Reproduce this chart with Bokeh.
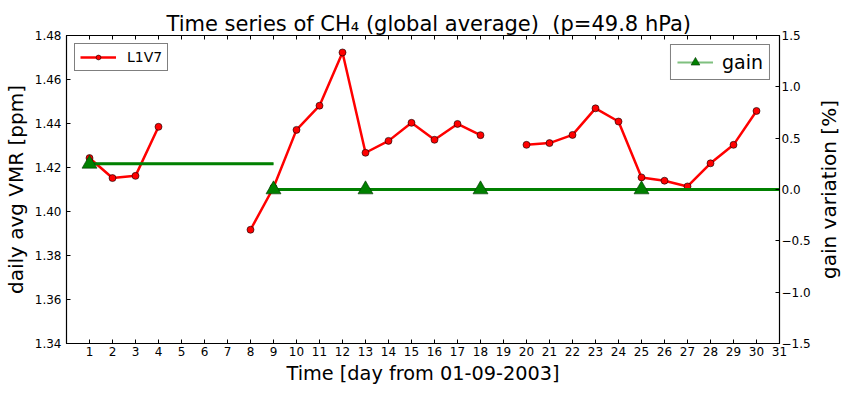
import math
from bokeh.plotting import figure
from bokeh.layouts import row
from bokeh.models import (Range1d, LinearAxis, FixedTicker, Legend, LegendItem,
                          ColumnDataSource)
from bokeh.embed import file_html
from bokeh.resources import INLINE

nan = float("nan")

days = list(range(1, 31))
l1v7 = [1.4243, 1.4152, 1.4162, 1.4385, nan, nan, nan, 1.3917, 1.4109, 1.4371,
        1.4481, 1.4723, 1.4267, 1.4321, 1.4403, 1.4326, 1.4398, 1.4347, nan, 1.4303,
        1.4311, 1.4348, 1.4469, 1.4409, 1.4155, 1.4140, 1.4114, 1.4219, 1.4303, 1.4457]

gain_days = [1, 9, 13, 18, 25]
gain_vals = [0.25, 0.0, 0.0, 0.0, 0.0]

x_ticks = list(range(1, 32))
y_ticks = [1.34, 1.36, 1.38, 1.40, 1.42, 1.44, 1.46, 1.48]
y_tick_labels = ["1.34", "1.36", "1.38", "1.40", "1.42", "1.44", "1.46", "1.48"]
y2_ticks = [-1.5, -1.0, -0.5, 0.0, 0.5, 1.0, 1.5]
y2_tick_labels = ["\u22121.5", "\u22121.0", "\u22120.5", "0.0", "0.5", "1.0", "1.5"]

X_MAX = 31
FONT = "DejaVu Sans"

p = figure(width=813, height=390,
           x_range=Range1d(0, X_MAX), y_range=Range1d(1.34, 1.48),
           output_backend="svg", toolbar_location=None,
           min_border_left=65, min_border_right=32, min_border_top=35, min_border_bottom=47,
           title="Time series of CH\u2084 (global average)\u00a0 (p=49.8 hPa)")
p.extra_y_ranges = {"gain": Range1d(-1.5, 1.5)}

p.title.align = "left"
p.title.offset = 100
p.title.text_font = FONT
p.title.text_font_size = "21px"
p.title.text_font_style = "normal"
p.title.text_color = "black"
p.title.standoff = 0

p.grid.visible = False
p.outline_line_color = "black"
p.outline_line_width = 1.2
p.background_fill_color = "white"
p.border_fill_color = "white"

def style_axis(ax, label_size="20px"):
    ax.axis_line_color = "black"
    ax.major_tick_line_color = "black"
    ax.major_tick_in = 4
    ax.major_tick_out = 0
    ax.minor_tick_line_color = None
    ax.major_label_text_font = FONT
    ax.major_label_text_font_size = "12px"
    ax.major_label_text_color = "black"
    ax.axis_label_text_font = FONT
    ax.axis_label_text_font_size = label_size
    ax.axis_label_text_font_style = "normal"
    ax.axis_label_text_color = "black"

xa = p.xaxis[0]
xa.ticker = FixedTicker(ticks=x_ticks)
xa.axis_label = "Time [day from 01-09-2003]"
style_axis(xa, "19.3px")
xa.major_label_standoff = 3
xa.axis_label_standoff = 3

ya = p.yaxis[0]
ya.ticker = FixedTicker(ticks=y_ticks)
ya.major_label_overrides = {t: s for t, s in zip(y_ticks, y_tick_labels)}
ya.axis_label = "daily avg VMR [ppm]"
style_axis(ya)
ya.major_label_standoff = 5
ya.axis_label_standoff = 4

y2 = LinearAxis(y_range_name="gain", ticker=FixedTicker(ticks=y2_ticks))
y2.major_label_overrides = {t: s for t, s in zip(y2_ticks, y2_tick_labels)}
style_axis(y2)
y2.major_label_standoff = 2
p.add_layout(y2, "right")

top = LinearAxis(ticker=FixedTicker(ticks=x_ticks))
style_axis(top)
top.major_label_overrides = {t: "" for t in x_ticks}
top.major_label_standoff = 0
p.add_layout(top, "above")

# L1V7 series
src = ColumnDataSource(dict(x=days, y=l1v7))
red_line = p.line("x", "y", source=src, line_color="#ff0000", line_width=2.5)
red_pts = p.scatter("x", "y", source=src, marker="circle", size=7,
                    fill_color="#ff0000", line_color="black", line_width=0.6)

# gain series: each value holds until the next gain day
seg_end = gain_days[1:] + [X_MAX]
gsrc = ColumnDataSource(dict(x0=gain_days, x1=seg_end, y=gain_vals))
g_light = p.segment(x0="x0", y0="y", x1="x1", y1="y", source=gsrc,
                    line_color="#7fc07f", line_width=2, y_range_name="gain")
p.segment(x0="x0", y0="y", x1="x1", y1="y", source=gsrc, line_color="#008000",
          line_width=3, y_range_name="gain")
g_pts = p.scatter("x0", "y", source=gsrc, marker="triangle", size=15,
                  fill_color="#008000", line_color="#003300", line_width=0.6,
                  y_range_name="gain")

leg1 = Legend(items=[LegendItem(label="L1V7", renderers=[red_line, red_pts])],
              location="top_left", margin=8, padding=5, spacing=0,
              glyph_width=36, glyph_height=12, label_height=12, label_standoff=11,
              label_text_font=FONT, label_text_font_size="14px",
              label_text_color="black",
              border_line_color="black", border_line_width=1,
              background_fill_alpha=1)
leg2 = Legend(items=[LegendItem(label="gain", renderers=[g_light, g_pts])],
              location="top_right", margin=9, padding=6, spacing=0,
              glyph_width=36, glyph_height=22, label_height=22, label_standoff=9,
              label_text_font=FONT, label_text_font_size="19px",
              label_text_color="black",
              border_line_color="black", border_line_width=1,
              background_fill_alpha=1)
p.add_layout(leg1)
p.add_layout(leg2)

# narrow companion figure carrying the right-hand axis title (reads bottom-to-top)
p2 = figure(width=35, height=390, x_range=Range1d(0, 1), y_range=Range1d(-1.5, 1.5),
            output_backend="svg", toolbar_location=None, x_axis_location=None,
            min_border_left=0, min_border_right=0, min_border_top=35, min_border_bottom=47)
p2.grid.visible = False
p2.outline_line_color = None
p2.background_fill_color = "white"
p2.border_fill_color = "white"
ax2 = p2.yaxis[0]
ax2.ticker = FixedTicker(ticks=[])
ax2.axis_line_color = None
ax2.major_tick_line_color = None
ax2.minor_tick_line_color = None
ax2.major_tick_out = 0
ax2.major_tick_in = 0
ax2.major_label_standoff = 0
ax2.axis_label = "gain variation [%]"
ax2.axis_label_standoff = 4
ax2.axis_label_text_font = FONT
ax2.axis_label_text_font_size = "20px"
ax2.axis_label_text_font_style = "normal"
ax2.axis_label_text_color = "black"

layout = row(p, p2, spacing=0)
open("out.html", "w").write(file_html(layout, INLINE))
